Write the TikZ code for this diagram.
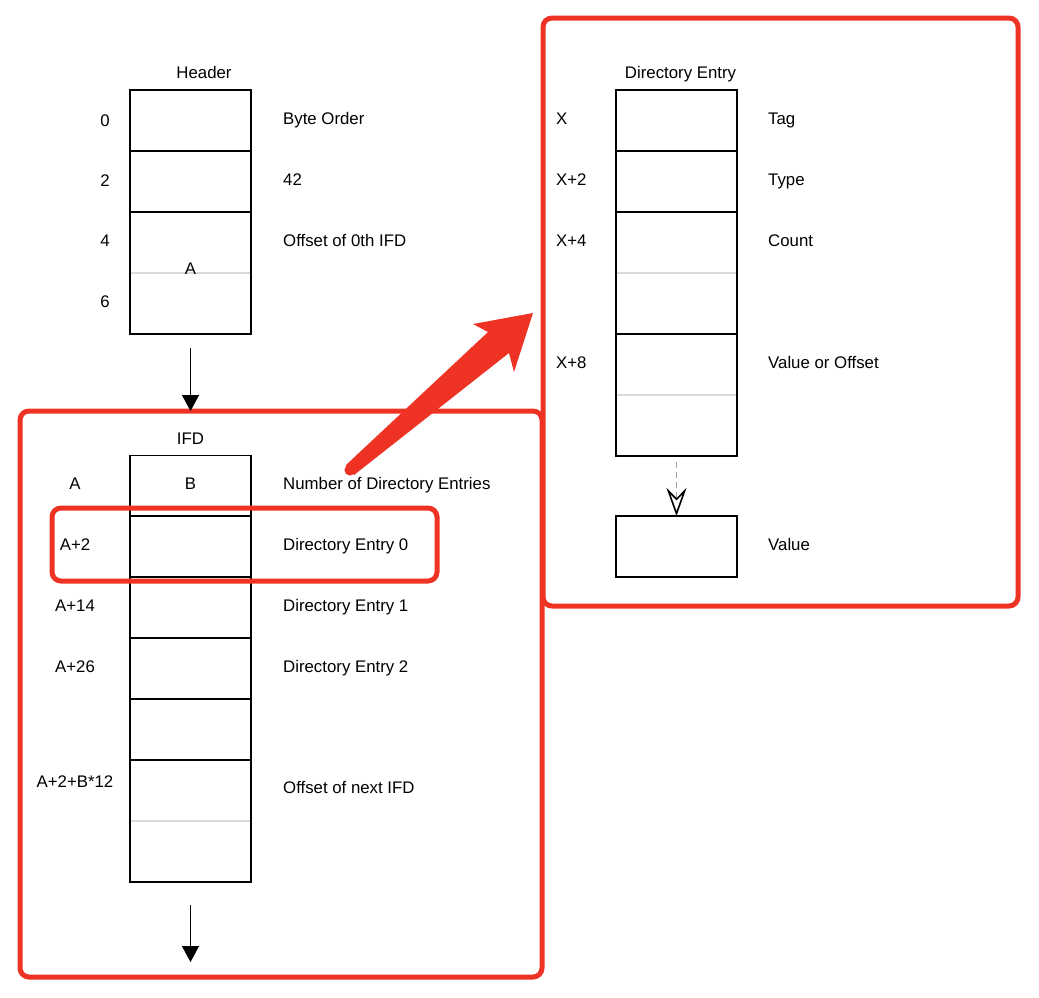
\documentclass[tikz,border=0pt]{standalone}
\usepackage{fontspec}
\setmainfont{Liberation Sans}
\usetikzlibrary{arrows.meta}
\definecolor{redmark}{RGB}{238,50,36}
\definecolor{divgray}{RGB}{218,218,218}

\tikzset{
	cell/.style={draw,line width=1.4pt,minimum width=121pt,minimum height=61pt,inner sep=0pt,outer sep=0pt},
	tallcell/.style={cell,minimum height=122pt},
	redbox/.style={draw=redmark,line width=5pt,rounded corners=9pt,inner sep=0pt,outer sep=0pt},
	txt/.style={inner sep=0pt,text height=12pt,text depth=0pt,font=\fontsize{16.8}{20}\selectfont},
	arr/.style={line width=1.4pt,-{Triangle[length=16pt,width=17pt]}},
}

\begin{document}
\begin{tikzpicture}[x=1pt,y=-1pt]
\useasboundingbox (0,0) rectangle (1039,997);

%header
\node[txt] (hdrtitle) at (204,72){Header};
\node[cell] (h0) at (190.5,120.5){};
\node[cell] (h2) at (190.5,181.5){};
\node[tallcell] (h4) at (190.5,273){};
\draw[divgray,line width=1.4pt]([xshift=0.7pt]h4.west)--([xshift=-0.7pt]h4.east);
\node[txt] (hA) at (190.5,268){A};
\foreach\y/\t in {120/0,180/2,240/4,301/6}{
	\node[txt] (off\t) at (105,\y){\t};}
\node[txt,anchor=west] (dbyte) at (283,118){Byte Order};
\node[txt,anchor=west] (d42) at (283,179){42};
\node[txt,anchor=west] (dzero) at (283,240){Offset of 0th IFD};

%IFD
\node[redbox,minimum width=522pt,minimum height=566pt] (ifdbox) at (281,694){};
\draw[arr]([yshift=-14pt]h4.south)--(h4.south |- ifdbox.north);
\node[txt] (ifdtitle) at (190.5,438){IFD};
\node[cell] (iB) at (190.5,486){};
\node[cell] (ie0) at (190.5,546.5){};
\node[cell] (ie1) at (190.5,607.5){};
\node[cell] (ie2) at (190.5,668.5){};
\node[cell] (ie3) at (190.5,729.5){};
\node[tallcell] (inext) at (190.5,821){};
\draw[divgray,line width=1.4pt]([xshift=0.7pt]inext.west)--([xshift=-0.7pt]inext.east);
\node[txt] (iBtext) at (190.5,483){B};

\node[txt] (oA) at (75,483){A};
\node[txt] (oA2) at (75,544){A+2};
\node[txt] (oA14) at (75,605){A+14};
\node[txt] (oA26) at (75,666){A+26};
\node[txt] (oAn) at (75,781){A+2+B*12};
\node[txt,anchor=west] (dnum) at (283,483){Number of Directory Entries};
\node[txt,anchor=west] (de0) at (283,544){Directory Entry 0};
\node[txt,anchor=west] (de1) at (283,605){Directory Entry 1};
\node[txt,anchor=west] (de2) at (283,666){Directory Entry 2};
\node[txt,anchor=west] (dnext) at (283,787){Offset of next IFD};
\coordinate (ifdend) at (190.5,962);
\draw[arr]([yshift=-23pt]inext.south)--(ifdend);
\node[redbox,minimum width=385pt,minimum height=73pt] (selbox) at (244.5,544.5){};

%directory entry
\node[redbox,minimum width=475pt,minimum height=588pt] (debox) at (780.5,312){};
\node[txt] (detitle) at (680.5,72){Directory Entry};
\node[cell] (dtag) at (676.5,120.5){};
\node[cell] (dtype) at (676.5,181.5){};
\node[tallcell] (dcount) at (676.5,273){};
\node[tallcell] (dval) at (676.5,395){};
\draw[divgray,line width=1.4pt]([xshift=0.7pt]dcount.west)--([xshift=-0.7pt]dcount.east);
\draw[divgray,line width=1.4pt]([xshift=0.7pt]dval.west)--([xshift=-0.7pt]dval.east);
\node[cell] (dvalue) at (676.5,546.5){};

\node[txt,anchor=west] (oX) at (556,118){X};
\node[txt,anchor=west] (oX2) at (556,179){X+2};
\node[txt,anchor=west] (oX4) at (556,240){X+4};
\node[txt,anchor=west] (oX8) at (556,362){X+8};
\node[txt,anchor=west] (dtagt) at (768,118){Tag};
\node[txt,anchor=west] (dtypet) at (768,179){Type};
\node[txt,anchor=west] (dcountt) at (768,240){Count};
\node[txt,anchor=west] (dvalt) at (768,362){Value or Offset};
\node[txt,anchor=west] (dvaluet) at (768,544){Value};
\draw[gray!70,line width=1.2pt,dash pattern=on 6pt off 4pt,
	-{Stealth[open,length=28pt,width=20pt,inset=10pt,black,line width=1.6pt]}]
	([yshift=-6pt]dval.south)--(dvalue.north);

%big red pointer
\coordinate (pt1) at (346,465);
\coordinate (pcl) at (488,332);
\coordinate (pbl) at (473,324);
\coordinate (ptip) at (533,313);
\coordinate (pbr) at (514,372);
\coordinate (pcr) at (509,353);
\coordinate (pt2) at (354,475);
\fill[redmark](pt1)--(pcl)--(pbl)--(ptip)--(pbr)--(pcr)--(pt2)--cycle;
\fill[redmark](350,470) circle (5.6);
\end{tikzpicture}
\end{document}
